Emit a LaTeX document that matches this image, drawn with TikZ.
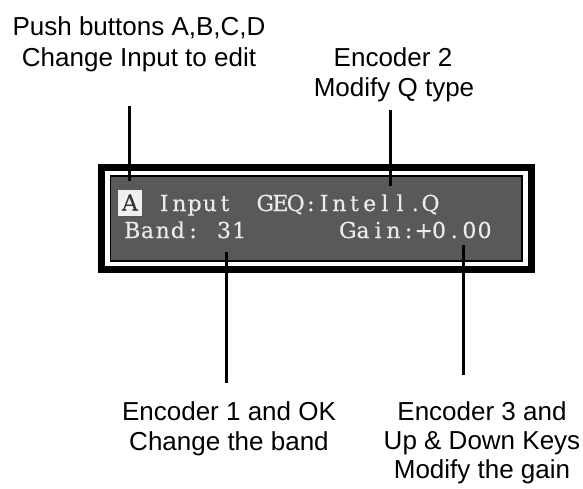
\documentclass[tikz,border=0pt]{standalone}
\usepackage{fontspec}
\setmainfont{Liberation Sans}
\newfontfamily\lcdfont[FakeBold=0.3]{DejaVu Serif}
\newcommand\cellw{15.2pt}
\let\monoend\relax
\def\monostr#1{\monostrA#1\monoend}
\def\monostrA#1{\ifx#1\monoend\else\makebox[\cellw][c]{#1}\expandafter\monostrA\fi}
\definecolor{lcdgray}{HTML}{595959}
\definecolor{lcdtext}{HTML}{EBEBEB}
\definecolor{keybg}{HTML}{F0F0F0}
\begin{document}
\begin{tikzpicture}[x=1pt,y=-1pt,
  annot/.style={font=\fontsize{26}{30}\selectfont, inner sep=0pt, anchor=base},
  lcdtxt/.style={font=\lcdfont\fontsize{22}{24}\selectfont, text=lcdtext, inner sep=0pt, anchor=base west},
  leader/.style={line width=2.8pt},
]
\useasboundingbox (0,0) rectangle (583,488);
% display
\node[draw, line width=7pt, minimum width=430pt, minimum height=102pt, inner sep=0pt] (lcd) at (316.5,218.5) {};
\node[draw, fill=lcdgray, line width=1.2pt, minimum width=411.5pt, minimum height=85pt, inner sep=0pt] (screen) at (316.25,218.5) {};
\node[fill=keybg, minimum width=23.4pt, minimum height=26pt, inner sep=0pt, font=\lcdfont\fontsize{22}{24}\selectfont, text=black!80] (keya) at (130,202.5) {A};
\node[lcdtxt] (input) at (156.4,211) {\monostr{Input}};
\node[lcdtxt] (geq) at (257.5,211) {\monostr{GEQ:}};
\node[lcdtxt] (intell) at (316.3,211) {\monostr{Intell.Q}};
\node[lcdtxt] (band) at (124.5,238) {\monostr{Band:}};
\node[lcdtxt] (bandval) at (216.3,238) {\monostr{31}};
\node[lcdtxt] (gain) at (340,238) {\monostr{Gain:+0.00}};
% annotations
\node[annot] (lab1a) at (139,35) {Push buttons A,B,C,D};
\node[annot] (lab1b) at (139,66) {Change Input to edit};
\node[annot] (lab2a) at (393,66.5) {Encoder 2};
\node[annot] (lab2b) at (394,96.5) {Modify Q type};
\node[annot] (lab3a) at (229,420) {Encoder 1 and OK};
\node[annot] (lab3b) at (229,450) {Change the band};
\node[annot] (lab4a) at (482,420) {Encoder 3 and};
\node[annot] (lab4b) at (482,449) {Up \& Down Keys};
\node[annot] (lab4c) at (482,478) {Modify the gain};
% leader lines
\coordinate (c1t) at (129.3,106);
\coordinate (c1b) at (129.3,181);
\coordinate (c2t) at (390.5,110);
\coordinate (c2b) at (390.5,186);
\coordinate (c3t) at (226.5,251.7);
\coordinate (c3b) at (226.5,383.3);
\coordinate (c4t) at (463.3,245);
\coordinate (c4b) at (463.3,375);
\draw[leader] (c1t) -- (c1b);
\draw[leader] (c2t) -- (c2b);
\draw[leader] (c3t) -- (c3b);
\draw[leader] (c4t) -- (c4b);
\end{tikzpicture}
\end{document}
